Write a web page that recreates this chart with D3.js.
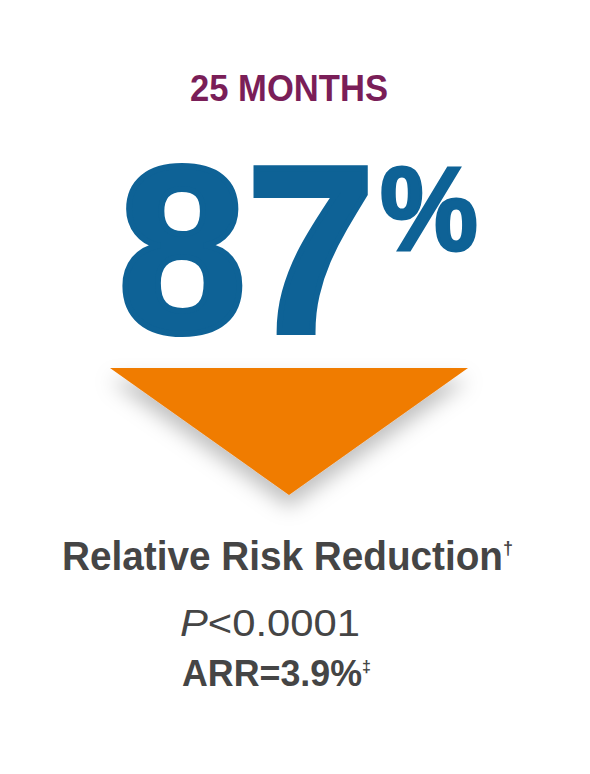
<!DOCTYPE html>
<html><head><meta charset="utf-8">
<script src="https://cdn.jsdelivr.net/npm/d3@7"></script>
<style>body{margin:0;background:#fff}</style>
</head><body>
<script>
// data
const period = ['25 MONTHS'];
const values = [87];
const measure = ['Relative Risk Reduction'];
const stats = [{label:'P', text:'<0.0001'}];
const arr = [3.9];

const W = 590, H = 774;
const svg = d3.select('body').append('svg').attr('width',W).attr('height',H);
const cx = 289;
const font = '"Liberation Sans",Arial,sans-serif';

const defs = svg.append('defs');
const f = defs.append('filter').attr('id','sh').attr('x','-20%').attr('y','-20%').attr('width','140%').attr('height','160%');
f.append('feDropShadow').attr('dx',0).attr('dy',12).attr('stdDeviation',10).attr('flood-color','#000').attr('flood-opacity',0.25);

svg.selectAll('.period').data(period).enter().append('text')
	.attr('x',190).attr('y',101)
	.attr('textLength',198).attr('lengthAdjust','spacingAndGlyphs')
	.style('font-family',font).style('font-weight','bold').style('font-size','37px')
	.style('fill','#7a1e58').text(d=>d);

const big = svg.selectAll('.big').data(values).enter().append('g');
big.append('text')
	.attr('x',118).attr('y',332)
	.attr('textLength',257).attr('lengthAdjust','spacingAndGlyphs')
	.style('font-family',font).style('font-weight','900').style('font-size','238px')
	.style('stroke','#0e6296').style('stroke-width',6)
	.style('fill','#0e6296').text(d=>d);
big.append('text')
	.attr('x',380).attr('y',250)
	.attr('textLength',98).attr('lengthAdjust','spacingAndGlyphs')
	.style('font-family',font).style('font-weight','bold').style('font-size','118px')
	.style('stroke','#0e6296').style('stroke-width',3)
	.style('fill','#0e6296').text('%');

// arrow triangle via scales
const x = d3.scaleLinear().domain([-1,1]).range([110,468]);
const y = d3.scaleLinear().domain([0,1]).range([368,495]);
svg.append('path')
	.attr('d',d3.line()([[x(-1),y(0)],[x(1),y(0)],[x(0),y(1)]])+'Z')
	.style('fill','#f07b05').attr('filter','url(#sh)');

const m = svg.append('text').attr('x',62).attr('y',570)
	.style('font-family',font).style('font-weight','bold').style('font-size','41px').style('fill','#454545');
m.append('tspan').attr('textLength',441).attr('lengthAdjust','spacingAndGlyphs').text(measure[0]);
m.append('tspan').attr('dy',-16).style('font-size','18px').text('†');

const p = svg.append('text').attr('x',180).attr('y',636)
	.attr('textLength',180).attr('lengthAdjust','spacingAndGlyphs')
	.style('font-family',font).style('font-size','36px').style('fill','#454545');
p.append('tspan').style('font-style','italic').text(stats[0].label);
p.append('tspan').text(stats[0].text);

const a = svg.append('text').attr('x',182).attr('y',686)
	.style('font-family',font).style('font-weight','bold').style('font-size','36px').style('fill','#454545');
a.append('tspan').attr('textLength',180).attr('lengthAdjust','spacingAndGlyphs').text(`ARR=${arr[0]}%`);
a.append('tspan').attr('dy',-14).style('font-size','16px').text('‡');
</script>
</body></html>
